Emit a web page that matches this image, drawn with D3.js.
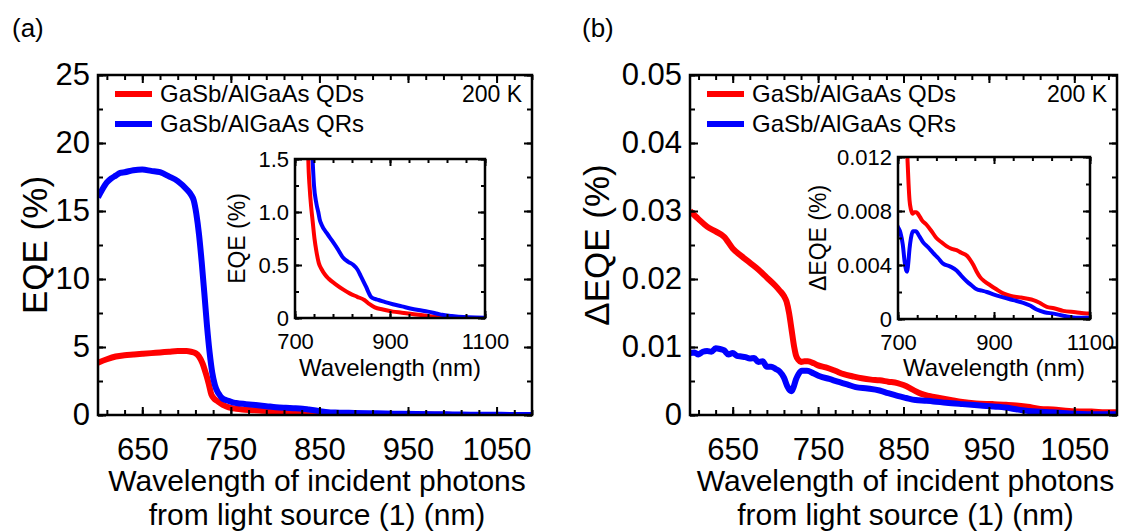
<!DOCTYPE html>
<html lang="en">
<head>
<meta charset="utf-8">
<title>EQE</title>
<script src="https://d3js.org/d3.v7.min.js"></script>
<style>
  body { margin: 0; background: #fff; }
  svg { font-family: "Liberation Sans", Arial, sans-serif; }
</style>
</head>
<body>
<script>

//////////////// data ////////////////
// EQE (%) vs wavelength (nm)
var eqeQD_wl = [600,610,620,630,640,650,660,670,680,690,700,705,710,714,718,722,725,728,731,734,737,741,745,750,756,763,771,785,801,816,831,846,857,868,885,906,925,943,960,980,1003,1030,1060,1090,1100];
var eqeQD    = [3.85,4.1,4.3,4.4,4.45,4.5,4.55,4.6,4.65,4.7,4.7,4.65,4.55,4.3,3.8,3.0,2.3,1.5,1.22,1.05,0.92,0.75,0.63,0.52,0.46,0.41,0.37,0.32,0.27,0.23,0.2,0.17,0.13,0.1,0.08,0.06,0.05,0.04,0.03,0.02,0.008,0.003,0.001,0,0];

var eqeQR_wl = [600,605,610,615,620,625,630,640,650,660,670,680,690,700,705,708,711,714,717,720,723,726,729,732,735,737,740,745,749,752,756,767,778,790,801,812,823,831,838,849,860,868,876,890,906,925,943,960,980,1000,1010,1030,1055,1080,1100];
var eqeQR    = [16.0,16.6,17.1,17.4,17.6,17.8,17.85,18.0,18.05,17.95,17.85,17.55,17.2,16.6,16.2,15.8,14.8,13.3,11.3,9.0,6.6,4.6,3.1,2.2,1.7,1.5,1.25,1.08,1.0,0.93,0.88,0.8,0.73,0.65,0.57,0.53,0.5,0.46,0.4,0.3,0.2,0.18,0.17,0.15,0.13,0.11,0.09,0.075,0.06,0.04,0.03,0.02,0.01,0.005,0.003];

// delta EQE (%) vs wavelength (nm)
var dQD_wl = [600,610,620,630,640,650,660,670,680,690,700,705,710,713,716,719,722,724,727,730,734,738,745,750,759,770,780,790,801,812,822,832,843,850,857,864,871,880,892,905,919,935,954,970,982,995,1010,1025,1044,1070,1093,1100];
var dQD    = [0.0300,0.0288,0.0277,0.0270,0.0262,0.0245,0.0234,0.0224,0.0214,0.0202,0.0190,0.0183,0.0175,0.0167,0.0150,0.0125,0.0100,0.0088,0.0081,0.0078,0.0079,0.0079,0.0076,0.0073,0.0070,0.0065,0.0060,0.0057,0.0054,0.0052,0.0051,0.0049,0.0047,0.0044,0.0040,0.0035,0.0031,0.0028,0.0025,0.0022,0.0019,0.0017,0.0016,0.0015,0.0014,0.0012,0.0009,0.0008,0.0006,0.0005,0.0004,0.0004];

var dQR_wl = [600,605,610,615,620,625,630,635,640,645,650,655,660,665,670,675,680,685,690,695,700,705,710,714,717,719,721,724,727,731,737,745,752,763,773,784,794,808,822,832,843,853,864,875,885,900,919,940,961,975,989,1005,1024,1050,1075,1093,1100];
var dQR    = [0.0091,0.0092,0.0089,0.0093,0.0094,0.0093,0.0098,0.0097,0.0095,0.0089,0.0091,0.0087,0.0086,0.0085,0.0083,0.0084,0.0078,0.0079,0.0071,0.0071,0.0068,0.0064,0.0055,0.0042,0.0036,0.0035,0.0040,0.0052,0.0060,0.0065,0.0065,0.0061,0.0057,0.0053,0.0049,0.0045,0.0041,0.0039,0.0036,0.0032,0.0028,0.0025,0.0022,0.0021,0.0020,0.0018,0.0016,0.0014,0.0012,0.0010,0.0007,0.0005,0.0004,0.0002,0.0001,0.0001,0.0001];

var seriesNames = ["GaSb/AlGaAs QDs", "GaSb/AlGaAs QRs"];
var seriesColors = ["#ff0000", "#0000ff"];
var tempLabel = "200 K";
var mainXTicks = [650, 750, 850, 950, 1050];
var insetXTicks = [700, 900, 1100];
var xTitle = ["Wavelength of incident photons", "from light source (1) (nm)"];

function zip(xs, ys) { return xs.map(function(x, i) { return [x, ys[i]]; }); }

var width = 1122, height = 531;
var svg = d3.select("body").append("svg")
  .attr("width", width).attr("height", height);

var clipId = 0;

/////////////// generic frame with inward ticks on 4 sides ///////////////
function frame(g, x, y, o) {
  var x0 = x.range()[0], x1 = x.range()[1], y0 = y.range()[0], y1 = y.range()[1];
  var minorX = d3.range(o.xMinorStart, x.domain()[1] + 0.001, o.xMinorStep);
  var minorY = d3.range(0, y.domain()[1] + 1e-9, o.yMinorStep);

  function clean(s) { s.select(".domain").remove(); s.selectAll(".tick line").attr("stroke-width", o.tw); }

  // minor
  g.append("g").attr("transform", "translate(0," + y0 + ")")
    .call(d3.axisBottom(x).tickValues(minorX).tickSize(-o.minor).tickFormat("")).call(clean);
  g.append("g").attr("transform", "translate(0," + y1 + ")")
    .call(d3.axisTop(x).tickValues(minorX).tickSize(-o.minor).tickFormat("")).call(clean);
  g.append("g").attr("transform", "translate(" + x0 + ",0)")
    .call(d3.axisLeft(y).tickValues(minorY).tickSize(-o.minor).tickFormat("")).call(clean);
  g.append("g").attr("transform", "translate(" + x1 + ",0)")
    .call(d3.axisRight(y).tickValues(minorY).tickSize(-o.minor).tickFormat("")).call(clean);

  // major with labels
  var bx = g.append("g").attr("transform", "translate(0," + y0 + ")")
    .call(d3.axisBottom(x).tickValues(o.xTicks).tickSize(-o.major).tickPadding(o.xPad).tickFormat(d3.format("d"))).call(clean);
  bx.selectAll("text").attr("font-size", o.fs).attr("fill", "#000").attr("font-family", null);
  g.append("g").attr("transform", "translate(0," + y1 + ")")
    .call(d3.axisTop(x).tickValues(o.xTicks).tickSize(-o.major).tickFormat("")).call(clean);
  var ly = g.append("g").attr("transform", "translate(" + x0 + ",0)")
    .call(d3.axisLeft(y).tickValues(o.yTicks).tickSize(-o.major).tickPadding(o.yPad).tickFormat(o.yFmt)).call(clean);
  ly.selectAll("text").attr("font-size", o.fs).attr("fill", "#000").attr("font-family", null);
  g.append("g").attr("transform", "translate(" + x1 + ",0)")
    .call(d3.axisRight(y).tickValues(o.yTicks).tickSize(-o.major).tickFormat("")).call(clean);

  g.append("rect")
    .attr("x", x0).attr("y", y1).attr("width", x1 - x0).attr("height", y0 - y1)
    .attr("fill", "none").attr("stroke", "#000").attr("stroke-width", o.fw);
}

function curves(g, x, y, data, lw) {
  var id = "clip" + (clipId++);
  g.append("clipPath").attr("id", id).append("rect")
    .attr("x", x.range()[0]).attr("y", y.range()[1])
    .attr("width", x.range()[1] - x.range()[0]).attr("height", y.range()[0] - y.range()[1]);
  var line = d3.line().x(function(d) { return x(d[0]); }).y(function(d) { return y(d[1]); })
    .curve(d3.curveMonotoneX);
  // QD first, QR on top
  data.forEach(function(s, i) {
    g.append("path").datum(s)
      .attr("clip-path", "url(#" + id + ")")
      .attr("d", line).attr("fill", "none")
      .attr("stroke", seriesColors[i]).attr("stroke-width", lw)
      .attr("stroke-linejoin", "round").attr("stroke-linecap", "butt");
  });
}

function panel(p) {
  var g = svg.append("g");
  var x = d3.scaleLinear().domain(p.xDom).range(p.xR);
  var y = d3.scaleLinear().domain(p.yDom).range(p.yR);

  // panel letter
  g.append("text").attr("x", p.letterX).attr("y", 37).attr("font-size", 26).text(p.letter);

  curves(g, x, y, p.data, 6);
  frame(g, x, y, {
    xTicks: mainXTicks, xMinorStart: 610, xMinorStep: 20,
    yTicks: p.yTicks, yMinorStep: p.yMinor, yFmt: p.yFmt,
    major: 8, minor: 5, tw: 2, fw: 2.5, fs: 31, xPad: 23, yPad: 8
  });

  // y title
  g.append("text")
    .attr("transform", "translate(" + p.yTitleX + "," + ((p.yR[0] + p.yR[1]) / 2) + ") rotate(-90)")
    .attr("text-anchor", "middle").attr("font-size", 35).text(p.yTitle);

  // x title (2 lines)
  var cx = (p.xR[0] + p.xR[1]) / 2 + 2;
  g.append("text").attr("x", cx).attr("y", 491).attr("text-anchor", "middle").attr("font-size", 30).text(xTitle[0]);
  g.append("text").attr("x", cx).attr("y", 525).attr("text-anchor", "middle").attr("font-size", 30).text(xTitle[1]);

  // legend
  seriesNames.forEach(function(n, i) {
    var ly = 94 + i * 30;
    g.append("line").attr("x1", p.xR[0] + 17).attr("x2", p.xR[0] + 54)
      .attr("y1", ly).attr("y2", ly).attr("stroke", seriesColors[i]).attr("stroke-width", 6);
    g.append("text").attr("x", p.xR[0] + 62).attr("y", ly + 8).attr("font-size", 24).text(n);
  });
  g.append("text").attr("x", p.xR[1] - 10).attr("y", 102).attr("text-anchor", "end")
    .attr("font-size", 23).text(tempLabel);

  // inset
  var ix = d3.scaleLinear().domain([700, 1100]).range(p.inX);
  var iy = d3.scaleLinear().domain(p.inYDom).range(p.inY);
  g.append("rect").attr("x", p.inX[0]).attr("y", p.inY[1])
    .attr("width", p.inX[1] - p.inX[0]).attr("height", p.inY[0] - p.inY[1]).attr("fill", "#fff");
  curves(g, ix, iy, p.data, 4);
  frame(g, ix, iy, {
    xTicks: insetXTicks, xMinorStart: 700, xMinorStep: 40,
    yTicks: p.inYTicks, yMinorStep: p.inYMinor, yFmt: p.inYFmt,
    major: 7, minor: 4, tw: 2, fw: 2.5, fs: 22, xPad: 15, yPad: 6
  });
  g.append("text")
    .attr("transform", "translate(" + p.inYTitleX + "," + ((p.inY[0] + p.inY[1]) / 2) + ") rotate(-90)")
    .attr("text-anchor", "middle").attr("font-size", 23).text(p.inYTitle);
  g.append("text").attr("x", (p.inX[0] + p.inX[1]) / 2).attr("y", 376)
    .attr("text-anchor", "middle").attr("font-size", 24).text("Wavelength (nm)");
}

panel({
  letter: "(a)", letterX: 12,
  xDom: [600, 1090], xR: [98, 532],
  yDom: [0, 25], yR: [415, 75],
  yTicks: [0, 5, 10, 15, 20, 25], yMinor: 2.5, yFmt: d3.format("d"),
  yTitle: "EQE (%)", yTitleX: 47,
  data: [zip(eqeQD_wl, eqeQD), zip(eqeQR_wl, eqeQR)],
  inX: [295, 485], inY: [318, 159], inYDom: [0, 1.5],
  inYTicks: [0, 0.5, 1.0, 1.5], inYMinor: 0.25,
  inYFmt: function(d) { return d === 0 ? "0" : d3.format(".1f")(d); },
  inYTitle: "EQE (%)", inYTitleX: 245
});

panel({
  letter: "(b)", letterX: 582,
  xDom: [600, 1100], xR: [690, 1117],
  yDom: [0, 0.05], yR: [415, 75],
  yTicks: [0, 0.01, 0.02, 0.03, 0.04, 0.05], yMinor: 0.005,
  yFmt: function(d) { return d === 0 ? "0" : d3.format(".2f")(d); },
  yTitle: "\u0394EQE (%)", yTitleX: 609,
  data: [zip(dQD_wl, dQD), zip(dQR_wl, dQR)],
  inX: [898, 1090], inY: [319, 157], inYDom: [0, 0.012],
  inYTicks: [0, 0.004, 0.008, 0.012], inYMinor: 0.002,
  inYFmt: function(d) { return d === 0 ? "0" : d3.format(".3f")(d); },
  inYTitle: "\u0394EQE (%)", inYTitleX: 826
});

</script>
</body>
</html>
